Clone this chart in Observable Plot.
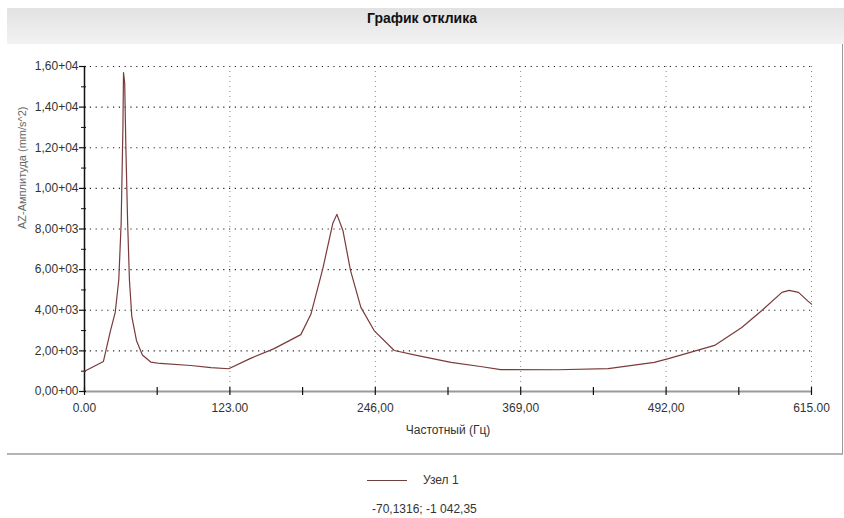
<!DOCTYPE html>
<html>
<head>
<meta charset="utf-8">
<script src="https://cdn.jsdelivr.net/npm/d3@7"></script>
<script src="https://cdn.jsdelivr.net/npm/@observablehq/plot@0.6"></script>
<style>
  html, body { margin: 0; padding: 0; background: #fff; }
  #wrap { position: relative; width: 844px; height: 518px; overflow: hidden; background: #fff;
          font-family: "Liberation Sans", Arial, sans-serif; }
  #band { position: absolute; left: 7px; top: 8px; width: 837px; height: 36px;
          background: linear-gradient(#e2e2e2, #f2f2f2); }
  #title { position: absolute; left: 0; width: 844px; top: 10px; text-align: center;
           font-weight: bold; font-size: 14px; color: #111; }
  #panel { position: absolute; left: 7px; top: 44px; width: 835px; height: 409px;
           border-right: 1px solid #9a9a9a; border-bottom: 2px solid #b4b4b4; background: #fff; }
  #chart { position: absolute; left: 0; top: 45px; }
  #legline { position: absolute; left: 367px; top: 480px; width: 40px; height: 0; border-top: 1.2px solid #6e4040; }
  #legtext { position: absolute; left: 423px; top: 473px; font-size: 12px; color: #333; }
  #coords { position: absolute; left: 372px; top: 502px; font-size: 12px; line-height: 14px; color: #333; }
</style>
</head>
<body>
<div id="wrap">
  <div id="band"></div>
  <div id="panel"></div>
  <div id="title"></div>
  <div id="chart"></div>
  <div id="legline"></div>
  <div id="legtext"></div>
  <div id="coords"></div>
</div>
<script>
// ---- Data ----
const titleText = "График отклика";
const xLabel = "Частотный (Гц)";
const yLabel = "AZ-Амплитуда (mm/s^2)";
const seriesName = "Узел 1";
const cursorText = "-70,1316; -1 042,35";

const freq = [0, 16, 22, 26, 29, 31, 32.5, 33, 34, 35, 36.5, 38, 40, 44, 49, 56, 64, 90, 107, 122,
              140, 160, 183, 191.5, 201.6, 210, 213.5, 218.6, 225, 233.8, 245, 262, 282, 310,
              335, 352, 400, 443, 482, 494, 533, 556, 573, 590, 596, 604, 612, 615];
const amp  = [1000, 1480, 3000, 3900, 5500, 8300, 13000, 15700, 15200, 12000, 8300, 5500, 3700, 2500, 1800, 1450, 1380, 1280, 1180, 1120,
              1620, 2100, 2800, 3800, 6050, 8270, 8720, 7930, 5960, 4140, 3000, 2020, 1770, 1430,
              1230, 1080, 1070, 1130, 1430, 1620, 2270, 3150, 3990, 4880, 4975, 4880, 4450, 4300];

const xTicks = [0, 123, 246, 369, 492, 615];
const xTickLabels = ["0.00", "123.00", "246,00", "369,00", "492,00", "615.00"];
const xMinorTicks = [61.5, 184.5, 307.5, 430.5, 553.5];
const yTicks = [0, 2000, 4000, 6000, 8000, 10000, 12000, 14000, 16000];
const yTickLabels = ["0,00+00", "2,00+03", "4,00+03", "6,00+03", "8,00+03", "1,00+04", "1,20+04", "1,40+04", "1,60+04"];
const yMinorTicks = [1000, 3000, 5000, 7000, 9000, 11000, 13000, 15000];

const data = freq.map((f, i) => ({f, a: amp[i]}));
const font = '"Liberation Sans", Arial, sans-serif';

document.getElementById("title").textContent = titleText;
document.getElementById("legtext").textContent = seriesName;
document.getElementById("coords").textContent = cursorText;

const chart = Plot.plot({
  width: 844,
  height: 410,
  marginTop: 21,
  marginBottom: 64,
  marginLeft: 84,
  marginRight: 33,
  style: {fontFamily: font, fontSize: "12px", color: "#333", background: "transparent"},
  x: {domain: [0, 615]},
  y: {domain: [0, 16000]},
  marks: [
    // horizontal dotted grid
    Plot.ruleY(yTicks.filter(d => d > 0), {stroke: "#222", strokeWidth: 1.2, strokeDasharray: "1.2,4.6"}),
    // vertical dotted grid
    Plot.ruleX(xTicks.filter(d => d > 0), {stroke: "#888", strokeWidth: 1, strokeDasharray: "1,4"}),
    // x axis line
    Plot.ruleY([0], {stroke: "#9a9a9a", strokeWidth: 2}),
    // y axis line
    Plot.ruleX([0], {stroke: "#111", strokeWidth: 1.5}),
    // x ticks crossing the axis line
    Plot.ruleX(xTicks.concat(xMinorTicks), {y1: 0, y2: 0, insetTop: -4, insetBottom: -4, stroke: "#111", strokeWidth: 1.2}),
    // y ticks
    Plot.ruleY(yTicks, {x1: 0, x2: 0, insetLeft: -5, insetRight: -2, stroke: "#111", strokeWidth: 1.2}),
    Plot.ruleY(yMinorTicks, {x1: 0, x2: 0, insetLeft: -3, insetRight: -2, stroke: "#111", strokeWidth: 1}),
    // tick labels
    Plot.axisX({ticks: xTicks, tickSize: 0, tickPadding: 12, tickFormat: (d) => xTickLabels[xTicks.indexOf(d)], label: null, fontSize: 12, fill: "#333"}),
    Plot.axisY({ticks: yTicks, tickSize: 0, tickPadding: 6, tickFormat: (d) => yTickLabels[yTicks.indexOf(d)], label: null, fontSize: 12, fill: "#333"}),
    // axis titles
    Plot.text([xLabel], {frameAnchor: "bottom", dy: 42, fontSize: 12, fill: "#333"}),
    Plot.text([yLabel], {frameAnchor: "left", dx: -62, rotate: -90, fontSize: 11, fill: "#666"}),
    // response curve
    Plot.line(data, {x: "f", y: "a", stroke: "#7a3a3a", strokeWidth: 1.2})
  ]
});
document.getElementById("chart").appendChild(chart);
</script>
</body>
</html>
